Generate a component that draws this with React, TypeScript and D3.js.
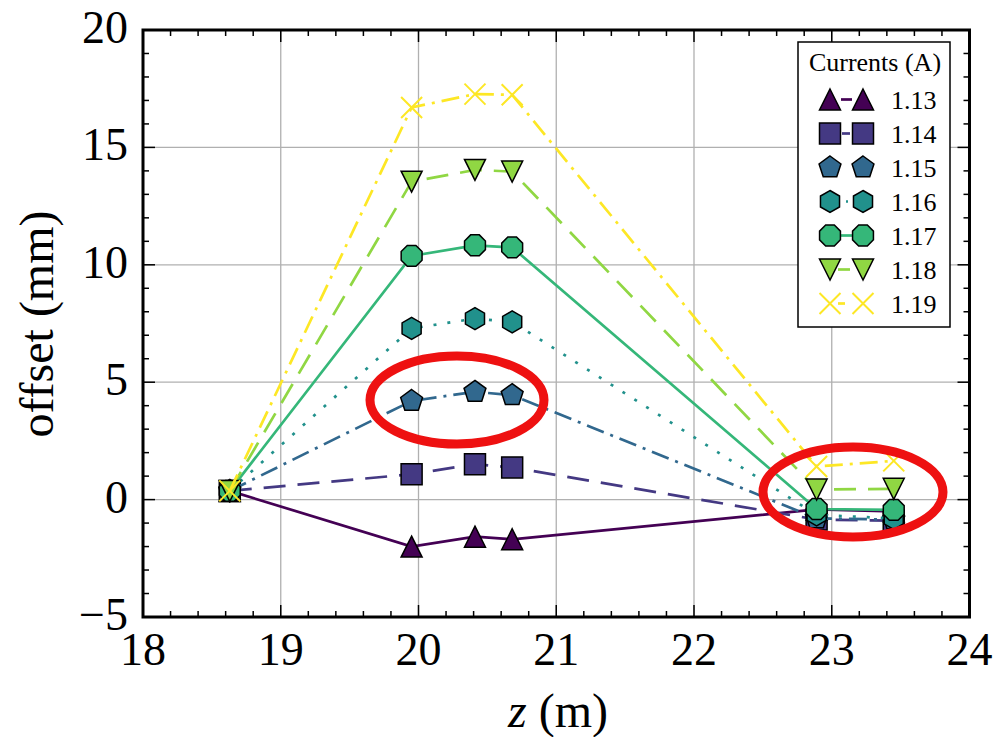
import React, { useEffect, useRef } from 'react';
import * as d3 from 'd3';

// z positions of the measurement stations (m)
const zVals = [18.63, 19.95, 20.41, 20.68, 22.89, 23.45];

const currents = ['1.13', '1.14', '1.15', '1.16', '1.17', '1.18', '1.19'];

const off113 = [0.37, -2.0, -1.58, -1.69, -0.42, -0.5];
const off114 = [0.37, 1.08, 1.51, 1.37, -0.85, -0.9];
const off115 = [0.37, 4.2, 4.59, 4.45, -0.8, -0.85];
const off116 = [0.37, 7.29, 7.71, 7.57, -0.65, -0.8];
const off117 = [0.37, 10.38, 10.83, 10.74, -0.4, -0.44];
const off118 = [0.37, 13.54, 14.04, 13.97, 0.43, 0.46];
const off119 = [0.37, 16.7, 17.27, 17.24, 1.41, 1.65];

const offsets = [off113, off114, off115, off116, off117, off118, off119];
const markers = ['triUp', 'square', 'pentagon', 'hexagon', 'octagon', 'triDown', 'x'];
const dashes = [null, '22,12', '18,7,3,7', '3,11', null, '22,12', '18,7,3,7'];
// what shows of each line between the two legend markers
const legendSeg = [[841, 852], [842, 850], null, [846, 848], [841, 852], [838, 850], [838, 845]];

const xTicks = [18, 19, 20, 21, 22, 23, 24];
const yTicks = [-5, 0, 5, 10, 15, 20];

const FONT = '"Times New Roman", Times, "Liberation Serif", serif';

function polygon(n, r, rot) {
  const pts = d3.range(n).map(i => {
    const a = rot + (i * 2 * Math.PI) / n;
    return [r * Math.cos(a), r * Math.sin(a)];
  });
  return 'M' + pts.map(p => p[0].toFixed(2) + ',' + p[1].toFixed(2)).join('L') + 'Z';
}

function markerPath(kind) {
  const s = 10.5;
  switch (kind) {
    case 'triUp': return `M0,${-s}L${s},${s}L${-s},${s}Z`;
    case 'triDown': return `M0,${s}L${-s},${-s}L${s},${-s}Z`;
    case 'square': return `M${-s},${-s}H${s}V${s}H${-s}Z`;
    case 'pentagon': return polygon(5, 11.5, -Math.PI / 2);
    case 'hexagon': return polygon(6, 11, -Math.PI / 2);
    case 'octagon': return polygon(8, 11.3, Math.PI / 8);
    default: return `M${-s},${-s}L${s},${s}M${-s},${s}L${s},${-s}`;
  }
}

function drawMarker(g, kind, color, x, y) {
  const p = g.append('path')
    .attr('transform', `translate(${x},${y})`)
    .attr('d', markerPath(kind));
  if (kind === 'x') {
    p.attr('fill', 'none').attr('stroke', color).attr('stroke-width', 2);
  } else {
    p.attr('fill', color).attr('stroke', '#000').attr('stroke-width', 1.5);
  }
}

function OffsetChart() {
  const ref = useRef(null);

  useEffect(() => {
    const svg = d3.select(ref.current);
    svg.selectAll('*').remove();

    const left = 143, right = 969.5, top = 30, bottom = 617;
    const x = d3.scaleLinear().domain([18, 24]).range([left, right]);
    const y = d3.scaleLinear().domain([-5, 20]).range([bottom, top]);
    const color = i => d3.interpolateViridis(i / 6);

    // grid
    const grid = svg.append('g');
    xTicks.slice(1, -1).forEach(t => {
      grid.append('line').attr('x1', x(t)).attr('x2', x(t)).attr('y1', top).attr('y2', bottom)
        .attr('stroke', '#b0b0b0').attr('stroke-width', 1.3);
    });
    yTicks.slice(1, -1).forEach(t => {
      grid.append('line').attr('x1', left).attr('x2', right).attr('y1', y(t)).attr('y2', y(t))
        .attr('stroke', '#b0b0b0').attr('stroke-width', 1.3);
    });

    // ticks (inward, all four sides)
    const ticks = svg.append('g').attr('stroke', '#000').attr('stroke-width', 1.5);
    d3.range(18, 24.001, 0.2).forEach(t => {
      const major = Math.abs(t - Math.round(t)) < 1e-6;
      const len = major ? 12 : 6;
      ticks.append('line').attr('x1', x(t)).attr('x2', x(t)).attr('y1', bottom).attr('y2', bottom - len);
      ticks.append('line').attr('x1', x(t)).attr('x2', x(t)).attr('y1', top).attr('y2', top + len);
    });
    d3.range(-5, 20.001, 1).forEach(t => {
      const major = t % 5 === 0;
      const len = major ? 12 : 6;
      ticks.append('line').attr('x1', left).attr('x2', left + len).attr('y1', y(t)).attr('y2', y(t));
      ticks.append('line').attr('x1', right).attr('x2', right - len).attr('y1', y(t)).attr('y2', y(t));
    });

    // series: line then markers
    const plot = svg.append('g');
    offsets.forEach((vals, i) => {
      const pts = zVals.map((z, k) => [x(z), y(vals[k])]);
      const line = d3.line();
      const path = plot.append('path')
        .attr('d', line(pts))
        .attr('fill', 'none')
        .attr('stroke', color(i))
        .attr('stroke-width', 2.7);
      if (dashes[i]) path.attr('stroke-dasharray', dashes[i]);
      pts.forEach(p => drawMarker(plot, markers[i], color(i), p[0], p[1]));
    });

    // frame
    svg.append('rect').attr('x', left).attr('y', top)
      .attr('width', right - left).attr('height', bottom - top)
      .attr('fill', 'none').attr('stroke', '#000').attr('stroke-width', 3);

    // tick labels
    const lab = svg.append('g').attr('font-family', FONT).attr('font-size', 46).attr('fill', '#000');
    xTicks.forEach(t => {
      lab.append('text').attr('x', x(t)).attr('y', 665).attr('text-anchor', 'middle').text(t);
    });
    yTicks.forEach(t => {
      lab.append('text').attr('x', 128).attr('y', y(t) + 13).attr('text-anchor', 'end')
        .text(t < 0 ? '\u2212' + Math.abs(t) : t);
    });

    // axis titles
    const xl = svg.append('text').attr('x', 558).attr('y', 727).attr('text-anchor', 'middle')
      .attr('font-family', FONT).attr('font-size', 48);
    xl.append('tspan').attr('font-style', 'italic').text('z');
    xl.append('tspan').text(' (m)');

    svg.append('text')
      .attr('transform', 'translate(53,324) rotate(-90)')
      .attr('text-anchor', 'middle')
      .attr('font-family', FONT).attr('font-size', 48)
      .text('offset (mm)');

    // legend
    const leg = svg.append('g');
    leg.append('rect').attr('x', 798).attr('y', 42).attr('width', 152).attr('height', 285)
      .attr('fill', '#fff').attr('stroke', '#000').attr('stroke-width', 1.5);
    leg.append('text').attr('x', 875).attr('y', 71).attr('text-anchor', 'middle')
      .attr('font-family', FONT).attr('font-size', 26).text('Currents (A)');
    currents.forEach((c, i) => {
      const yy = 99.5 + i * 34;
      const seg = legendSeg[i];
      if (seg) {
        leg.append('line').attr('x1', seg[0]).attr('x2', seg[1]).attr('y1', yy).attr('y2', yy)
          .attr('stroke', color(i)).attr('stroke-width', 2.7);
      }
      drawMarker(leg, markers[i], color(i), 830, yy);
      drawMarker(leg, markers[i], color(i), 863, yy);
      leg.append('text').attr('x', 891).attr('y', yy + 9)
        .attr('font-family', FONT).attr('font-size', 26).text(c);
    });

    // red highlight ellipses
    svg.append('ellipse').attr('cx', 457).attr('cy', 400).attr('rx', 87).attr('ry', 44)
      .attr('fill', 'none').attr('stroke', '#ee1111').attr('stroke-width', 9);
    svg.append('ellipse').attr('cx', 853).attr('cy', 492).attr('rx', 90).attr('ry', 45)
      .attr('fill', 'none').attr('stroke', '#ee1111').attr('stroke-width', 9);
  }, []);

  return <svg ref={ref} width={997} height={737} style={{ position: 'absolute', left: 0, top: 0, background: '#fff' }} />;
}

export default function App() {
  return <OffsetChart />;
}
